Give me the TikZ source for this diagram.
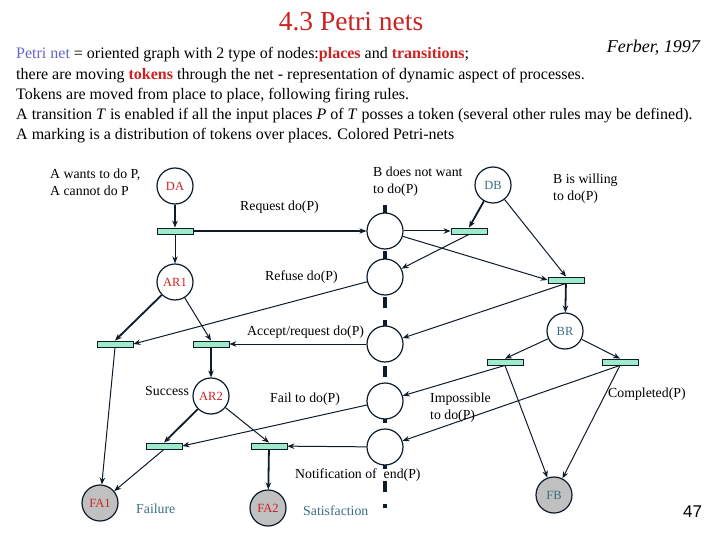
\documentclass[tikz,border=0pt]{standalone}
\usepackage{fontspec}
\setmainfont{Liberation Serif}
\newfontfamily\numfont{Liberation Sans}
\usetikzlibrary{arrows.meta}
\definecolor{linec}{HTML}{0D1B2A}
\definecolor{transc}{HTML}{9EEBC9}
\definecolor{redc}{HTML}{CC2222}
\definecolor{tealc}{HTML}{3B6E80}
\definecolor{bluec}{HTML}{6666CC}
\definecolor{grayc}{HTML}{C0C0C0}
\begin{document}
\begin{tikzpicture}[x=1pt,y=-1pt,
  place/.style={circle, draw=linec, line width=1.2pt, minimum size=36pt, inner sep=0pt, fill=white, font=\fontsize{12.5}{12.5}\selectfont},
  final/.style={place, fill=grayc},
  trans/.style={rectangle, draw=linec, line width=0.8pt, fill=transc, minimum width=36pt, minimum height=6pt, inner sep=0pt},
  arr/.style={-{Stealth[length=7pt,width=5.5pt]}, line width=1pt, draw=linec},
  tarr/.style={arr, line width=1.8pt},
  lbl/.style={anchor=base west, inner sep=0pt, font=\fontsize{13.8}{13.8}\selectfont},
  body/.style={anchor=base west, inner sep=0pt, font=\fontsize{16}{16}\selectfont}
]
\useasboundingbox (0,0) rectangle (720,540);
\fill[white] (0,0) rectangle (720,540);

% header
\node[anchor=base, inner sep=0pt, text=redc, font=\fontsize{27.5}{27.5}\selectfont] (title) at (351,31) {4.3 Petri nets};
\node[anchor=base east, inner sep=0pt, font=\fontsize{18}{18}\selectfont\itshape] (ferber) at (700,53) {Ferber, 1997};
\node[body] (l1) at (16,59) {\textcolor{bluec}{Petri net} = oriented graph with 2 type of nodes:\textcolor{redc}{\textbf{places}} and \textcolor{redc}{\textbf{transitions}};};
\node[body] (l2) at (16,80) {there are moving \textcolor{redc}{\textbf{tokens}} through the net - representation of dynamic aspect of processes.};
\node[body] (l3) at (16,100) {Tokens are moved from place to place, following firing rules.};
\node[body] (l4) at (16,120) {A transition \textit{T} is enabled if all the input places \textit{P} of \textit{T} posses a token (several other rules may be defined).};
\node[body] (l5) at (16,140) {A marking is a distribution of tokens over places. Colored Petri-nets};

% central dashed line
\draw[linec, line width=3.5pt, dash pattern=on 11pt off 12pt] (385,205) -- (385,508);

% places
\node[place, text=redc] (DA) at (175,186) {DA};
\node[place, text=redc] (AR1) at (175,282) {AR1};
\node[place, text=redc] (AR2) at (211,396) {AR2};
\node[final, text=redc] (FA1) at (100,503) {FA1};
\node[final, text=redc] (FA2) at (268,508) {FA2};
\node[place, text=tealc] (DB) at (493,185) {DB};
\node[place, text=tealc] (BR) at (565,331) {BR};
\node[final, text=tealc] (FB) at (554,495) {FB};
\node[place] (c1) at (385,231) {};
\node[place] (c2) at (385,277) {};
\node[place] (c3) at (385,344) {};
\node[place] (c4) at (385,401) {};
\node[place] (c5) at (385,447) {};

% transitions
\node[trans] (t1) at (175,231) {};
\node[trans] (tdb) at (469,231) {};
\node[trans] (tdb2) at (566,280) {};
\node[trans] (ta1l) at (115,344) {};
\node[trans] (ta1r) at (211,344) {};
\node[trans] (ta2l) at (164,446) {};
\node[trans] (ta2r) at (269,446) {};
\node[trans] (tbrl) at (505,362) {};
\node[trans] (tbrr) at (620,362) {};

% arcs
\draw[tarr] (DA) -- (t1);
\draw[arr] (t1) -- (AR1);
\draw[tarr] (t1) -- (c1);
\draw[arr] (c1) -- (tdb);
\draw[tarr] (DB) -- (tdb.north);
\draw[arr] (tdb.south) -- (c2);
\draw[arr] (c1) -- (tdb2.west);
\draw[arr] (DB) -- (tdb2.north);
\draw[arr] (tdb2.south) -- (c3);
\draw[tarr] (tdb2) -- (BR);
\draw[arr] (c2) -- (ta1l.east);
\draw[tarr] (AR1) -- (ta1l.north);
\draw[arr] (AR1) -- (ta1r.north);
\draw[arr] (c3) -- (ta1r);
\draw[tarr] (ta1r) -- (AR2);
\draw[arr] (ta1l.south) -- (FA1);
\draw[tarr] (AR2) -- (ta2l.north);
\draw[arr] (AR2) -- (ta2r.north);
\draw[arr] (c4) -- (ta2l.east);
\draw[arr] (ta2l.south) -- (FA1);
\draw[arr] (c5) -- (ta2r);
\draw[tarr] (ta2r) -- (FA2);
\draw[arr] (BR) -- (tbrl.north);
\draw[arr] (BR) -- (tbrr.north);
\draw[arr] (tbrl.south) -- (c4);
\draw[arr] (tbrr.south) -- (c5);
\draw[arr] (tbrl.south) -- (FB);
\draw[arr] (tbrr.south) -- (FB);

% labels
\node[lbl] (la1) at (50,179) {A wants to do P,};
\node[lbl] (la2) at (50,196) {A cannot do P};
\node[lbl] (lreq) at (240,211) {Request do(P)};
\node[lbl] (lb1) at (373,177) {B does not want};
\node[lbl] (lb2) at (373,194) {to do(P)};
\node[lbl] (lw1) at (553,184) {B is willing};
\node[lbl] (lw2) at (553,201) {to do(P)};
\node[lbl] (lref) at (265,280) {Refuse do(P)};
\node[lbl] (lacc) at (247,335) {Accept/request do(P)};
\node[lbl] (lsuc) at (145,395) {Success};
\node[lbl] (lfail) at (270,402) {Fail to do(P)};
\node[lbl] (limp1) at (430,402) {Impossible};
\node[lbl] (limp2) at (430,419) {to do(P)};
\node[lbl] (lcomp) at (608,397) {Completed(P)};
\node[lbl] (lnot) at (295,478) {Notification of\ \ end(P)};
\node[lbl, text=tealc] (lfailure) at (136,513) {Failure};
\node[lbl, text=tealc] (lsat) at (303,515) {Satisfaction};
\node[anchor=base west, inner sep=0pt, font=\numfont\fontsize{17}{17}\selectfont] (pg) at (683,517) {47};
\end{tikzpicture}
\end{document}
